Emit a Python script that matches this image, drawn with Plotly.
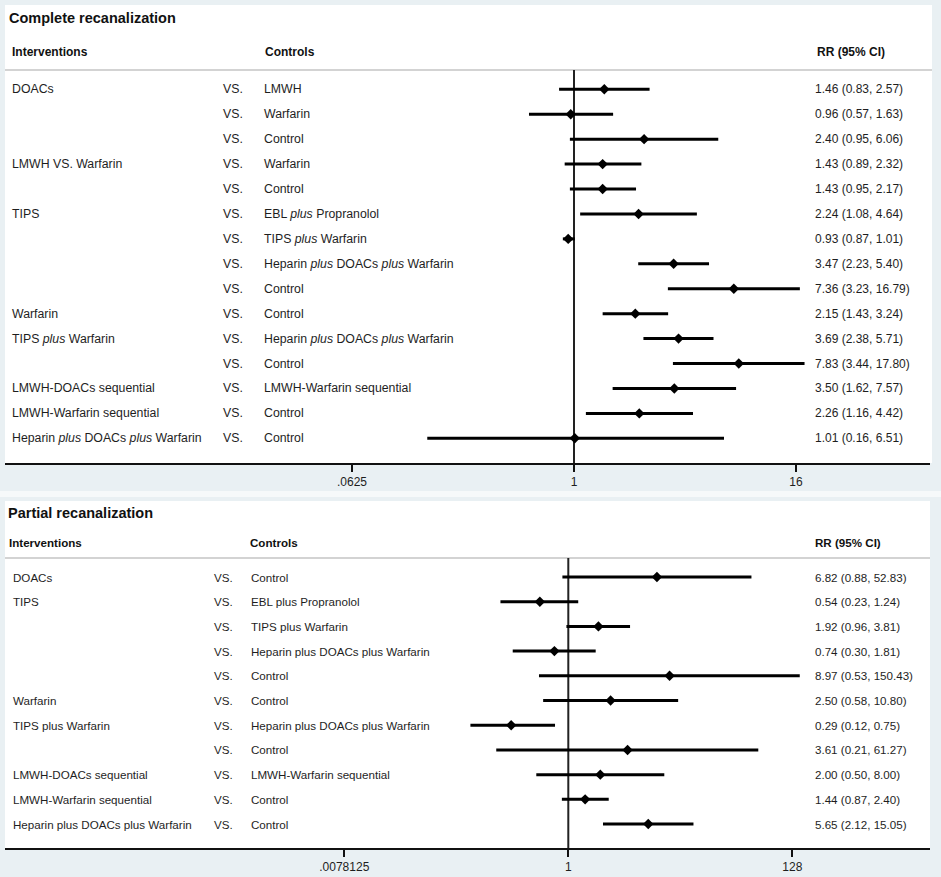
import math
import plotly.graph_objects as go

# ---------------- data ----------------
title1 = "Complete recanalization"
interventions1 = ["DOACs", "", "", "LMWH VS. Warfarin", "", "TIPS", "", "", "",
                  "Warfarin", "TIPS <i>plus</i> Warfarin", "", "LMWH-DOACs sequential",
                  "LMWH-Warfarin sequential", "Heparin <i>plus</i> DOACs <i>plus</i> Warfarin"]
controls1 = ["LMWH", "Warfarin", "Control", "Warfarin", "Control",
             "EBL <i>plus</i> Propranolol", "TIPS <i>plus</i> Warfarin",
             "Heparin <i>plus</i> DOACs <i>plus</i> Warfarin", "Control", "Control",
             "Heparin <i>plus</i> DOACs <i>plus</i> Warfarin", "Control",
             "LMWH-Warfarin sequential", "Control", "Control"]
rr1 = [1.46, 0.96, 2.40, 1.43, 1.43, 2.24, 0.93, 3.47, 7.36, 2.15, 3.69, 7.83, 3.50, 2.26, 1.01]
lo1 = [0.83, 0.57, 0.95, 0.89, 0.95, 1.08, 0.87, 2.23, 3.23, 1.43, 2.38, 3.44, 1.62, 1.16, 0.16]
hi1 = [2.57, 1.63, 6.06, 2.32, 2.17, 4.64, 1.01, 5.40, 16.79, 3.24, 5.71, 17.80, 7.57, 4.42, 6.51]
ticks1 = [0.0625, 1, 16]
ticklabels1 = [".0625", "1", "16"]

title2 = "Partial recanalization"
interventions2 = ["DOACs", "TIPS", "", "", "", "Warfarin", "TIPS plus Warfarin", "",
                  "LMWH-DOACs sequential", "LMWH-Warfarin sequential",
                  "Heparin plus DOACs plus Warfarin"]
controls2 = ["Control", "EBL plus Propranolol", "TIPS plus Warfarin",
             "Heparin plus DOACs plus Warfarin", "Control", "Control",
             "Heparin plus DOACs plus Warfarin", "Control", "LMWH-Warfarin sequential",
             "Control", "Control"]
rr2 = [6.82, 0.54, 1.92, 0.74, 8.97, 2.50, 0.29, 3.61, 2.00, 1.44, 5.65]
lo2 = [0.88, 0.23, 0.96, 0.30, 0.53, 0.58, 0.12, 0.21, 0.50, 0.87, 2.12]
hi2 = [52.83, 1.24, 3.81, 1.81, 150.43, 10.80, 0.75, 61.27, 8.00, 2.40, 15.05]
ticks2 = [0.0078125, 1, 128]
ticklabels2 = [".0078125", "1", "128"]

header_int = "Interventions"
header_ctrl = "Controls"
header_rr = "RR (95% CI)"
vs_label = "VS."

# ---------------- layout helpers ----------------
W, H = 941, 877
def px(x):
    return x / W
def py(y):
    return 1 - y / H

FONT = "Liberation Sans, Arial, Helvetica, sans-serif"
TXT = "#1e1e1e"
BG = "#e9f0f3"

def log10_range(left_px, right_px, one_px, px_per_log2):
    a = (left_px - one_px) / px_per_log2 * math.log10(2)
    b = (right_px - one_px) / px_per_log2 * math.log10(2)
    return [a, b]

fig = go.Figure()

def fmt(r, l, h):
    return f"{r:.2f} ({l:.2f}, {h:.2f})"

def add_panel(xa, ya, rr, lo, hi):
    n = len(rr)
    rows = list(range(1, n + 1))
    xs, ys = [], []
    for i in range(n):
        xs += [lo[i], hi[i], None]
        ys += [rows[i], rows[i], None]
    fig.add_trace(go.Scatter(x=xs, y=ys, mode="lines", xaxis=xa, yaxis=ya,
                             line=dict(color="black", width=3), hoverinfo="skip",
                             showlegend=False))
    fig.add_trace(go.Scatter(x=rr, y=rows, mode="markers", xaxis=xa, yaxis=ya,
                             marker=dict(symbol="diamond", size=8, color="black"),
                             showlegend=False))

add_panel("x", "y", rr1, lo1, hi1)
add_panel("x2", "y2", rr2, lo2, hi2)

axis_common = dict(type="log", showline=True, linecolor="#111", linewidth=1.5,
                   ticks="outside", ticklen=7, tickwidth=1.5, tickcolor="#111",
                   showgrid=False, zeroline=False,
                   tickfont=dict(family=FONT, size=12, color=TXT))

fig.update_layout(
    width=W, height=H,
    margin=dict(l=0, r=0, t=0, b=0),
    paper_bgcolor=BG, plot_bgcolor="rgba(0,0,0,0)",
    showlegend=False,
    xaxis=dict(domain=[px(5), px(930)], anchor="y",
               range=log10_range(5, 930, 574, 55.5),
               tickvals=ticks1, ticktext=ticklabels1, **axis_common),
    yaxis=dict(domain=[py(463), py(70)], range=[15.99, 0.226], visible=False),
    xaxis2=dict(domain=[px(5), px(930)], anchor="y2",
                range=log10_range(5, 930, 568.3, 32.0),
                tickvals=ticks2, ticktext=ticklabels2, **axis_common),
    yaxis2=dict(domain=[py(848), py(558)], range=[11.97, 0.231], visible=False),
)

shapes = []
# gap strip between the two graphs
shapes.append(dict(type="rect", xref="paper", yref="paper", x0=0, x1=1,
                   y0=py(497), y1=py(491), fillcolor="#f6f9fa", line_width=0, layer="below"))
# white plot regions
shapes.append(dict(type="rect", xref="paper", yref="paper", x0=px(5), x1=px(932),
                   y0=py(463), y1=py(5), fillcolor="white", line_width=0, layer="below"))
shapes.append(dict(type="rect", xref="paper", yref="paper", x0=px(5), x1=px(930),
                   y0=py(848), y1=py(501), fillcolor="white", line_width=0, layer="below"))
# header separators
shapes.append(dict(type="line", xref="paper", yref="paper", x0=px(5), x1=px(932),
                   y0=py(70), y1=py(70), line=dict(color="#c4c4c4", width=1.5), layer="below"))
shapes.append(dict(type="line", xref="paper", yref="paper", x0=px(5), x1=px(930),
                   y0=py(558), y1=py(558), line=dict(color="#c4c4c4", width=1.5), layer="below"))
# null lines at RR = 1
shapes.append(dict(type="line", xref="x", yref="y domain", x0=1, x1=1, y0=0, y1=1,
                   line=dict(color="#222", width=2), layer="below"))
shapes.append(dict(type="line", xref="x2", yref="y2 domain", x0=1, x1=1, y0=0, y1=1,
                   line=dict(color="#222", width=2), layer="below"))
fig.update_layout(shapes=shapes)

ann = []
def text(x, y, s, size=12, bold=False, yref="paper", color=TXT):
    ann.append(dict(x=x, y=y, xref="paper", yref=yref, text=(f"<b>{s}</b>" if bold else s),
                    showarrow=False, xanchor="left", yanchor="middle",
                    font=dict(family=FONT, size=size, color=color)))

# panel 1
text(px(7), py(18), title1, size=14.5, bold=True, color="#111")
text(px(10), py(52), header_int, bold=True, color="#111")
text(px(263), py(52), header_ctrl, bold=True, color="#111")
text(px(815), py(52), header_rr, bold=True, color="#111")
for i in range(len(rr1)):
    r = i + 1
    if interventions1[i]:
        text(px(10), r, interventions1[i], size=12.3, yref="y")
    text(px(221), r, vs_label, size=12.3, yref="y")
    text(px(262), r, controls1[i], size=12.3, yref="y")
    text(px(813), r, fmt(rr1[i], lo1[i], hi1[i]), yref="y")

# panel 2
FS2 = 11.6
text(px(6), py(513), title2, size=14.5, bold=True, color="#111")
text(px(7), py(542), header_int, size=FS2, bold=True, color="#111")
text(px(248), py(542), header_ctrl, size=FS2, bold=True, color="#111")
text(px(813), py(542), header_rr, size=FS2, bold=True, color="#111")
for i in range(len(rr2)):
    r = i + 1
    if interventions2[i]:
        text(px(11), r, interventions2[i], size=FS2, yref="y2")
    text(px(212), r, vs_label, size=FS2, yref="y2")
    text(px(249), r, controls2[i], size=FS2, yref="y2")
    text(px(813), r, fmt(rr2[i], lo2[i], hi2[i]), size=FS2, yref="y2")

fig.update_layout(annotations=ann)

fig.write_html("out.html", config={"displayModeBar": False},
               post_script="document.body.style.margin='0px';document.body.style.overflow='hidden';")
